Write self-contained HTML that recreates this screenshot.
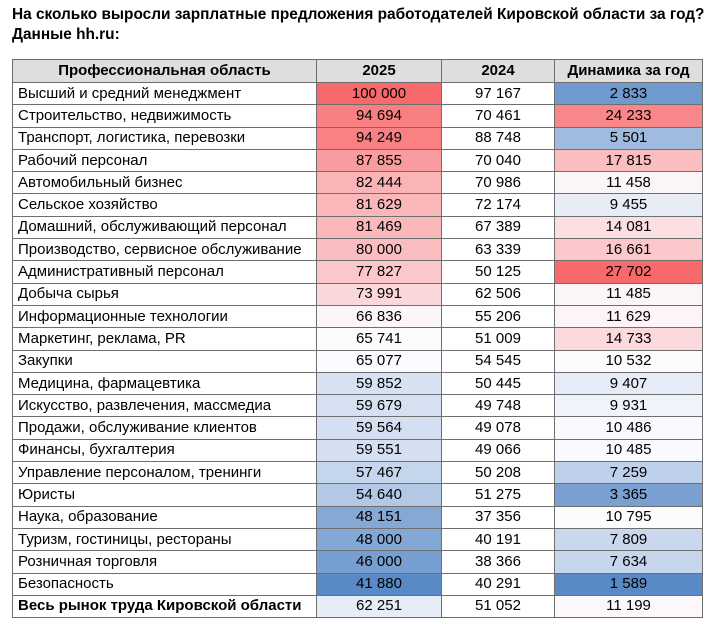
<!DOCTYPE html>
<html><head><meta charset="utf-8"><style>
body{margin:0;width:720px;height:624px;background:#fff;font-family:"Liberation Sans",sans-serif;position:relative;overflow:hidden}
.t{position:absolute;left:12px;top:5px;font-weight:bold;font-size:15.4px;line-height:20px;color:#000;white-space:nowrap}
table{position:absolute;left:12px;top:59px;border-collapse:collapse;font-size:15px;color:#000;table-layout:fixed}
td,th{border:1px solid #6e6e6e;height:21.3px;padding:0;line-height:20px;white-space:nowrap;overflow:hidden}
th{background:#dedede;font-weight:bold;height:22px}
td:first-child{padding-left:5px;text-align:left}
td{text-align:center}
</style></head><body>
<div class="t">На сколько выросли зарплатные предложения работодателей Кировской области за год?<br>Данные hh.ru:</div>
<table>
<colgroup><col style="width:304px"><col style="width:125px"><col style="width:113px"><col style="width:148px"></colgroup>
<tr><th>Профессиональная область</th><th>2025</th><th>2024</th><th>Динамика за год</th></tr>
<tr><td>Высший и средний менеджмент</td><td style="background:#f8696b">100 000</td><td>97 167</td><td style="background:rgb(112,154,206)">2 833</td></tr>
<tr><td>Строительство, недвижимость</td><td style="background:rgb(249,128,130)">94 694</td><td>70 461</td><td style="background:rgb(249,135,137)">24 233</td></tr>
<tr><td>Транспорт, логистика, перевозки</td><td style="background:rgb(249,129,131)">94 249</td><td>88 748</td><td style="background:rgb(160,187,223)">5 501</td></tr>
<tr><td>Рабочий персонал</td><td style="background:rgb(249,156,159)">87 855</td><td>70 040</td><td style="background:rgb(250,190,193)">17 815</td></tr>
<tr><td>Автомобильный бизнес</td><td style="background:rgb(250,180,182)">82 444</td><td>70 986</td><td style="background:rgb(252,245,248)">11 458</td></tr>
<tr><td>Сельское хозяйство</td><td style="background:rgb(250,183,185)">81 629</td><td>72 174</td><td style="background:rgb(230,237,247)">9 455</td></tr>
<tr><td>Домашний, обслуживающий персонал</td><td style="background:rgb(250,184,187)">81 469</td><td>67 389</td><td style="background:rgb(251,223,225)">14 081</td></tr>
<tr><td>Производство, сервисное обслуживание</td><td style="background:rgb(250,190,193)">80 000</td><td>63 339</td><td style="background:rgb(251,200,203)">16 661</td></tr>
<tr><td>Административный персонал</td><td style="background:rgb(251,199,202)">77 827</td><td>50 125</td><td style="background:#f8696b">27 702</td></tr>
<tr><td>Добыча сырья</td><td style="background:rgb(251,215,218)">73 991</td><td>62 506</td><td style="background:rgb(252,245,248)">11 485</td></tr>
<tr><td>Информационные технологии</td><td style="background:rgb(252,246,249)">66 836</td><td>55 206</td><td style="background:rgb(252,244,247)">11 629</td></tr>
<tr><td>Маркетинг, реклама, PR</td><td style="background:rgb(252,252,255)">65 741</td><td>51 009</td><td style="background:rgb(251,217,220)">14 733</td></tr>
<tr><td>Закупки</td><td style="background:rgb(250,251,255)">65 077</td><td>54 545</td><td style="background:rgb(252,252,255)">10 532</td></tr>
<tr><td>Медицина, фармацевтика</td><td style="background:rgb(214,225,242)">59 852</td><td>50 445</td><td style="background:rgb(230,236,247)">9 407</td></tr>
<tr><td>Искусство, развлечения, массмедиа</td><td style="background:rgb(213,224,241)">59 679</td><td>49 748</td><td style="background:rgb(239,243,250)">9 931</td></tr>
<tr><td>Продажи, обслуживание клиентов</td><td style="background:rgb(212,224,241)">59 564</td><td>49 078</td><td style="background:rgb(249,250,254)">10 486</td></tr>
<tr><td>Финансы, бухгалтерия</td><td style="background:rgb(212,224,241)">59 551</td><td>49 066</td><td style="background:rgb(249,250,254)">10 485</td></tr>
<tr><td>Управление персоналом, тренинги</td><td style="background:rgb(197,214,236)">57 467</td><td>50 208</td><td style="background:rgb(191,209,234)">7 259</td></tr>
<tr><td>Юристы</td><td style="background:rgb(178,200,229)">54 640</td><td>51 275</td><td style="background:rgb(122,160,209)">3 365</td></tr>
<tr><td>Наука, образование</td><td style="background:rgb(133,168,213)">48 151</td><td>37 356</td><td style="background:rgb(252,252,255)">10 795</td></tr>
<tr><td>Туризм, гостиницы, рестораны</td><td style="background:rgb(132,168,213)">48 000</td><td>40 191</td><td style="background:rgb(201,216,237)">7 809</td></tr>
<tr><td>Розничная торговля</td><td style="background:rgb(118,158,208)">46 000</td><td>38 366</td><td style="background:rgb(198,214,236)">7 634</td></tr>
<tr><td>Безопасность</td><td style="background:#5a8ac6">41 880</td><td>40 291</td><td style="background:#5a8ac6">1 589</td></tr>
<tr><td style="font-weight:bold">Весь рынок труда Кировской области</td><td style="background:rgb(230,237,247)">62 251</td><td>51 052</td><td style="background:rgb(252,247,250)">11 199</td></tr>
</table>
</body></html>
